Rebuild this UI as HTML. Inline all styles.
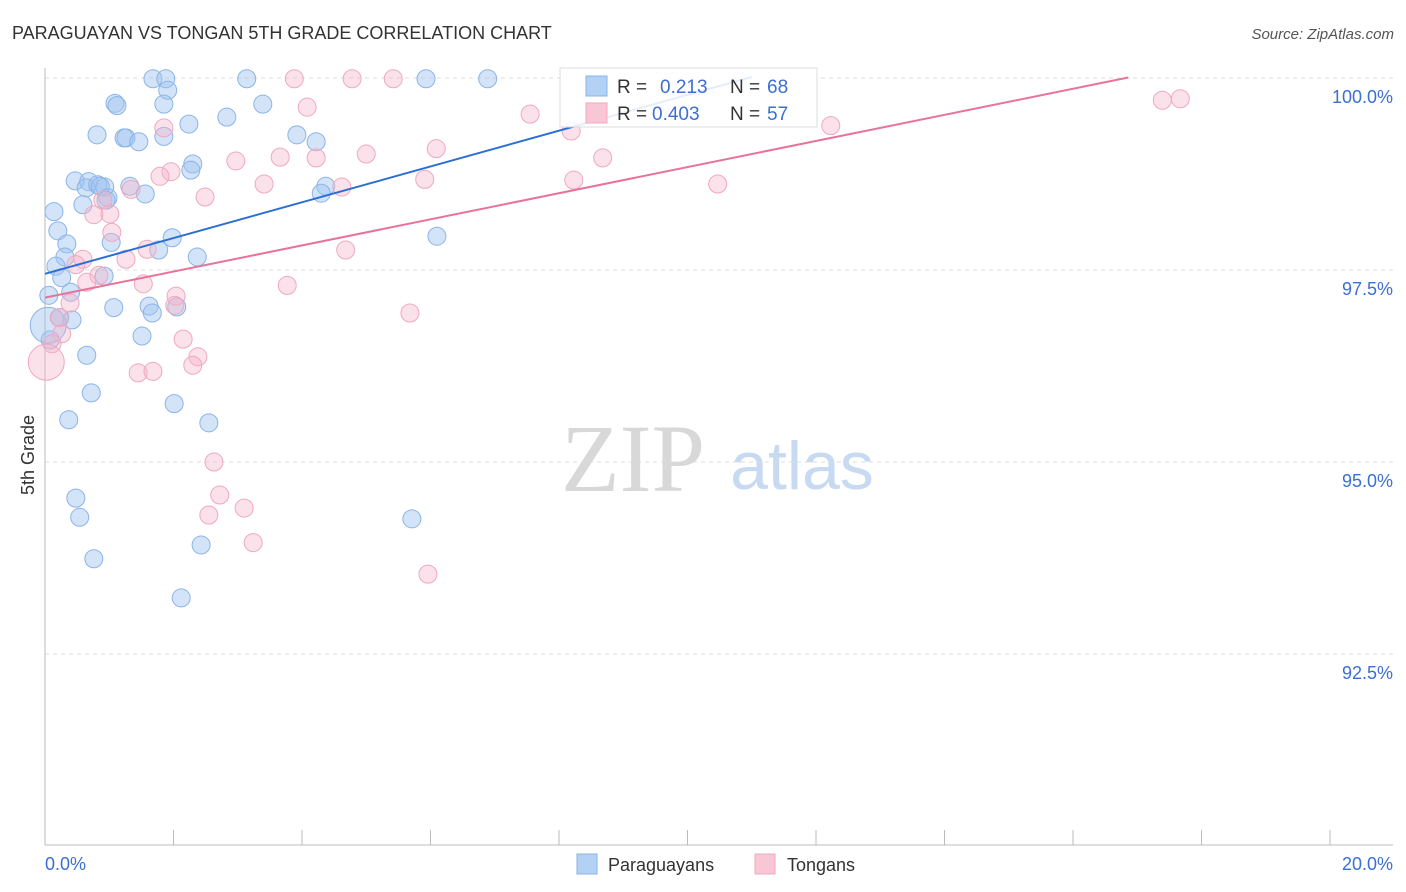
<!DOCTYPE html>
<html><head><meta charset="utf-8">
<style>
body{margin:0;background:#fff;}
svg{display:block;font-family:"Liberation Sans",sans-serif;}
</style></head>
<body>
<svg id="chart" width="1406" height="892" xmlns="http://www.w3.org/2000/svg">
<text x="12" y="39" font-size="18" fill="#333">PARAGUAYAN VS TONGAN 5TH GRADE CORRELATION CHART</text>
<text x="1394" y="39" font-size="15" fill="#555" font-style="italic" text-anchor="end">Source: ZipAtlas.com</text>
<text transform="translate(34,455) rotate(-90)" font-size="18" fill="#333" text-anchor="middle">5th Grade</text>
<g>
<text x="633" y="491" font-size="96" fill="#d8d8d8" font-family="Liberation Serif,serif" text-anchor="middle">ZIP</text>
<text x="802" y="489" font-size="68" fill="#c8daf2" text-anchor="middle">atlas</text>
</g>
<g id="grid"></g>
<g id="axes"></g>
<g id="points"></g>
<g id="lines"></g>
<g>
<rect x="560" y="68" width="257" height="59" fill="#fff" fill-opacity="0.88" stroke="#ddd"/>
<rect x="586" y="76" width="21" height="20" fill="#b3d0f5" stroke="#8ab4e8"/>
<text x="617" y="93" font-size="19" fill="#333">R =</text>
<text x="660" y="93" font-size="19" fill="#3b6fd4">0.213</text>
<text x="730" y="93" font-size="19" fill="#333">N =</text>
<text x="767" y="93" font-size="19" fill="#3b6fd4">68</text>
<rect x="586" y="103" width="21" height="20" fill="#f9c6d6" stroke="#f0a8c0"/>
<text x="617" y="120" font-size="19" fill="#333">R =</text>
<text x="652" y="120" font-size="19" fill="#3b6fd4">0.403</text>
<text x="730" y="120" font-size="19" fill="#333">N =</text>
<text x="767" y="120" font-size="19" fill="#3b6fd4">57</text>
</g>
<g>
<rect x="577" y="854" width="20" height="20" fill="#b3d0f5" stroke="#8ab4e8"/>
<text x="608" y="871" font-size="18" fill="#333">Paraguayans</text>
<rect x="755" y="854" width="20" height="20" fill="#f9c6d6" stroke="#f0a8c0"/>
<text x="787" y="871" font-size="18" fill="#333">Tongans</text>
</g>
</svg>
<script>
const yTicks=[100,97.5,95,92.5];
const yTickLabels=["100.0%","97.5%","95.0%","92.5%"];
const xTickCount=10;
const xLabels=["0.0%","20.0%"];
const blueX=[1.68,1.88,3.14,5.93,6.89,1.91,1.09,1.12,1.85,3.39,2.83,2.24,0.81,1.23,1.26,1.46,1.85,3.92,4.22,2.30,2.27,0.47,0.68,0.64,0.82,0.93,0.86,1.32,4.37,4.30,1.56,0.98,0.95,0.59,0.14,0.20,6.10,0.34,1.03,1.98,0.31,1.77,2.37,0.17,0.26,0.92,0.06,0.40,1.07,1.62,2.05,1.67,0.23,0.42,1.51,0.08,0.65,0.72,2.01,0.37,2.55,0.48,0.54,5.71,2.43,0.76,2.12,0.05];
const blueY=[99.99,99.99,99.99,99.99,99.99,99.84,99.67,99.64,99.66,99.66,99.49,99.40,99.26,99.22,99.22,99.17,99.24,99.26,99.17,98.88,98.80,98.66,98.65,98.57,98.61,98.58,98.59,98.59,98.59,98.50,98.49,98.44,98.41,98.35,98.26,98.01,97.94,97.84,97.86,97.92,97.67,97.76,97.67,97.55,97.40,97.42,97.17,97.21,97.01,97.03,97.02,96.94,96.88,96.85,96.64,96.59,96.39,95.90,95.76,95.55,95.51,94.53,94.28,94.26,93.92,93.74,93.23,96.78];
const pinkX=[3.88,4.78,5.42,7.55,8.19,4.08,1.85,2.97,3.66,4.22,5.00,6.09,8.68,12.23,17.39,17.67,1.96,1.79,2.49,3.41,4.62,5.91,8.23,10.47,1.34,0.90,1.01,0.76,1.04,1.59,1.26,4.68,0.59,0.48,0.84,0.65,1.53,2.04,3.77,0.39,2.02,5.68,0.22,0.26,0.11,2.15,2.38,2.30,1.45,1.68,0.02,2.63,2.72,3.10,2.55,3.24,5.96];
const pinkY=[99.99,99.99,99.99,99.53,99.31,99.62,99.35,98.92,98.97,98.96,99.01,99.08,98.96,99.38,99.71,99.73,98.78,98.72,98.45,98.62,98.58,98.68,98.67,98.62,98.55,98.41,98.23,98.22,97.99,97.77,97.64,97.76,97.64,97.57,97.43,97.34,97.32,97.16,97.30,97.07,97.04,96.94,96.88,96.67,96.54,96.60,96.37,96.26,96.16,96.18,96.30,95.00,94.57,94.40,94.31,93.95,93.54];
const blueTrend=[97.45,0.233,0,11];
const pinkTrend=[97.14,0.170,0,16.86];
const NS="http://www.w3.org/2000/svg";
function xs(v){return 45+v*64.25;}
function ys(v){return 78+(100-v)*76.8;}
function mk(t,a,p){const e=document.createElementNS(NS,t);for(const k in a)e.setAttribute(k,a[k]);p.appendChild(e);return e;}
const grid=document.getElementById('grid'),axes=document.getElementById('axes'),pts=document.getElementById('points'),lines=document.getElementById('lines');
yTicks.forEach((t,i)=>{
 const l=mk('line',{x1:45,x2:1393,y1:ys(t),y2:ys(t),stroke:'#ddd','stroke-dasharray':'4,4'},grid);
 
 
 const tx=mk('text',{x:1393,y:ys(t)+25,'font-size':18,fill:'#3b6fd4','text-anchor':'end'},axes);
 tx.textContent=yTickLabels[i];
 
 
});
const ax=mk('line',{x1:45,x2:45,y1:68,y2:845,stroke:'#bbb'},axes);


const bx=mk('line',{x1:45,x2:1393,y1:845,y2:845,stroke:'#bbb'},axes);


for(let i=1;i<=xTickCount;i++){
 const t=mk('line',{x1:xs(i*2),x2:xs(i*2),y1:830,y2:845,stroke:'#bbb'},axes);
 
 
}
const xl0=mk('text',{x:45,y:870,'font-size':18,fill:'#3b6fd4'},axes);xl0.textContent=xLabels[0];


const xl1=mk('text',{x:1393,y:870,'font-size':18,fill:'#3b6fd4','text-anchor':'end'},axes);xl1.textContent=xLabels[1];


function drawSeries(X,Y,fill,stroke,name,bigIdx){
 X.forEach((x,i)=>{
  const c=mk('circle',{cx:xs(x),cy:ys(Y[i]),r:i===bigIdx?18:9,fill:fill,stroke:stroke,'stroke-width':1},pts);
  
  
 });
}
drawSeries(blueX,blueY,'rgba(160,196,240,0.45)','#8ab4e8','paraguayan-point',67);
drawSeries(pinkX,pinkY,'rgba(245,180,200,0.4)','#f0a8c0','tongan-point',50);
function trend(t,color,name){
 const l=mk('line',{x1:xs(t[2]),y1:ys(t[0]+t[1]*t[2]),x2:xs(t[3]),y2:ys(t[0]+t[1]*t[3]),stroke:color,'stroke-width':2},lines);
 
 
}
trend(blueTrend,'#2a6fd6','paraguayan-trend-line');
trend(pinkTrend,'#e8739a','tongan-trend-line');
</script>
</body></html>
